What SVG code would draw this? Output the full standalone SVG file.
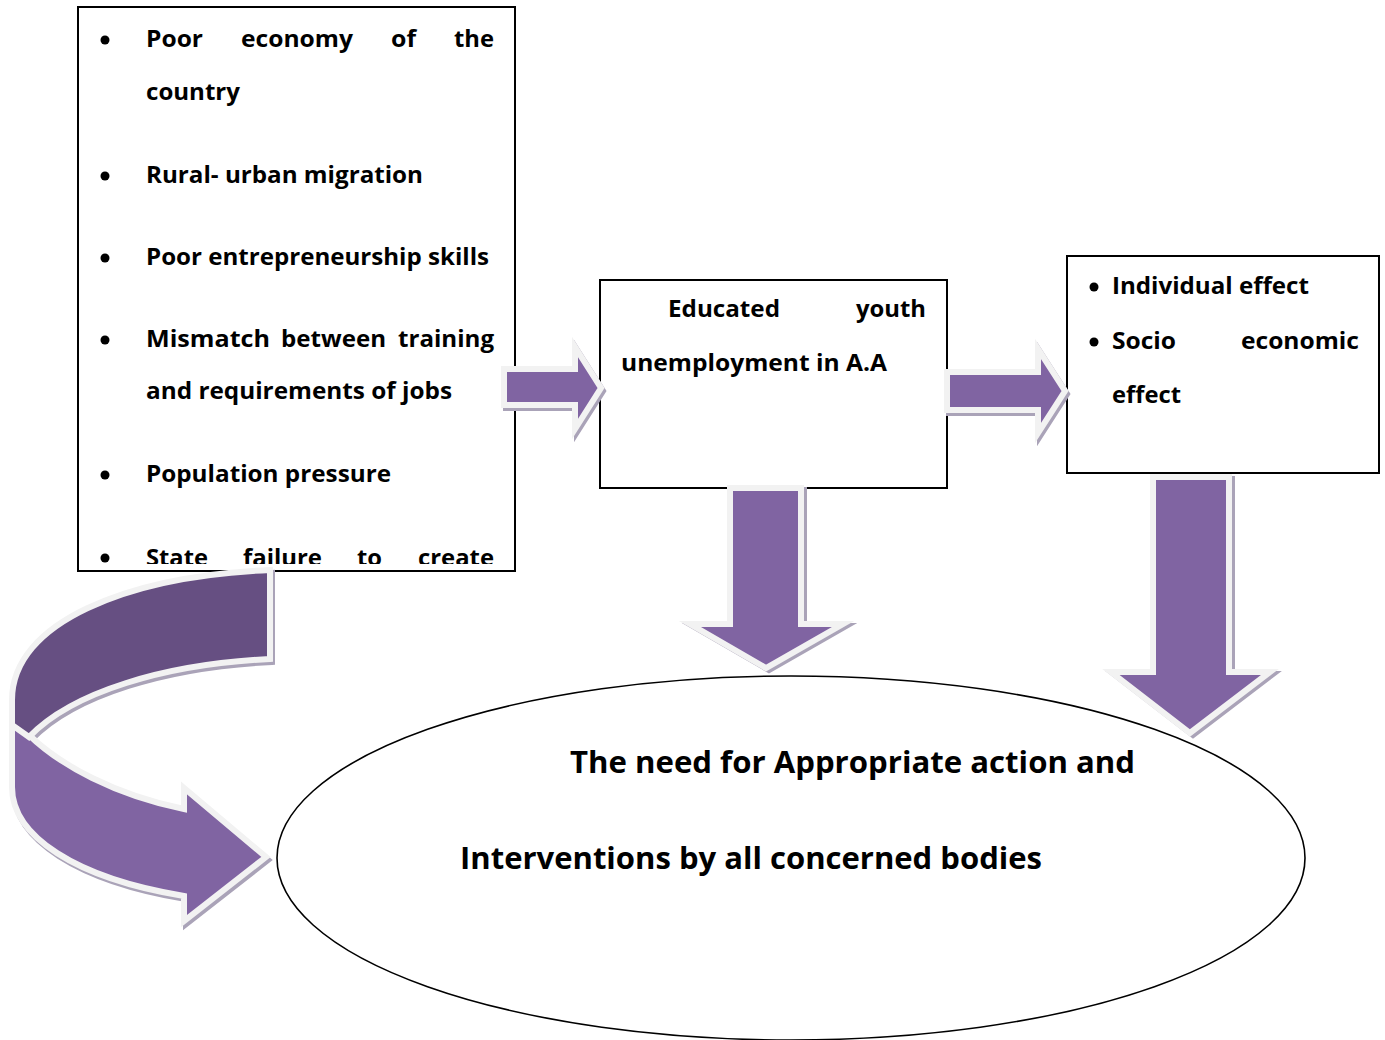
<svg xmlns="http://www.w3.org/2000/svg" width="1385" height="1040" viewBox="0 0 1385 1040">
  <style>
    .box { fill: #ffffff; stroke: #000000; stroke-width: 2; }
    .t { font-family: "Open Sans", "Liberation Sans", sans-serif; font-weight: bold; font-size: 23.5px; fill: #000000; }
    .tb { font-family: "Open Sans", "Liberation Sans", sans-serif; font-weight: bold; font-size: 30px; fill: #000000; }
    .arrow { fill: #8064a2; stroke: #f2f2f2; stroke-width: 6; stroke-linejoin: miter; }
    .dark { fill: #664f82; stroke: #f2f2f2; stroke-width: 6; stroke-linejoin: miter; }
    .shadow { fill: #aaa3b8; stroke: #aaa3b8; stroke-width: 6; stroke-linejoin: miter; }
  </style>
  <defs>
    <clipPath id="clipLeft">
      <rect x="78" y="7" width="437" height="557"/>
    </clipPath>
  </defs>
  <rect width="1385" height="1040" fill="#ffffff"/>

  <g id="node-causes">
    <rect class="box" x="78" y="7" width="437" height="564"/>
    <g clip-path="url(#clipLeft)">
      <circle cx="105" cy="40" r="4.5"/>
      <text class="t" x="146" y="47" textLength="57" lengthAdjust="spacingAndGlyphs">Poor</text>
      <text class="t" x="241" y="47" textLength="112" lengthAdjust="spacingAndGlyphs">economy</text>
      <text class="t" x="391" y="47" textLength="25" lengthAdjust="spacingAndGlyphs">of</text>
      <text class="t" x="454" y="47" textLength="40" lengthAdjust="spacingAndGlyphs">the</text>
      <text class="t" x="146" y="100" textLength="94" lengthAdjust="spacingAndGlyphs">country</text>
      <circle cx="105" cy="176" r="4.5"/>
      <text class="t" x="146" y="183" textLength="277" lengthAdjust="spacingAndGlyphs">Rural- urban migration</text>
      <circle cx="105" cy="258" r="4.5"/>
      <text class="t" x="146" y="265" textLength="343" lengthAdjust="spacingAndGlyphs">Poor entrepreneurship skills</text>
      <circle cx="105" cy="340" r="4.5"/>
      <text class="t" x="146" y="347" textLength="124" lengthAdjust="spacingAndGlyphs">Mismatch</text>
      <text class="t" x="281" y="347" textLength="105" lengthAdjust="spacingAndGlyphs">between</text>
      <text class="t" x="398" y="347" textLength="96" lengthAdjust="spacingAndGlyphs">training</text>
      <text class="t" x="146" y="399" textLength="306" lengthAdjust="spacingAndGlyphs">and requirements of jobs</text>
      <circle cx="105" cy="475" r="4.5"/>
      <text class="t" x="146" y="482" textLength="245" lengthAdjust="spacingAndGlyphs">Population pressure</text>
      <circle cx="105" cy="558" r="4.5"/>
      <text class="t" x="146" y="566" textLength="62" lengthAdjust="spacingAndGlyphs">State</text>
      <text class="t" x="243" y="566" textLength="79" lengthAdjust="spacingAndGlyphs">failure</text>
      <text class="t" x="357" y="566" textLength="25" lengthAdjust="spacingAndGlyphs">to</text>
      <text class="t" x="418" y="566" textLength="76" lengthAdjust="spacingAndGlyphs">create</text>
    </g>
  </g>

  <g id="node-problem">
    <rect class="box" x="600" y="280" width="347" height="208"/>
    <text class="t" x="668" y="317" textLength="112" lengthAdjust="spacingAndGlyphs">Educated</text>
    <text class="t" x="856" y="317" textLength="70" lengthAdjust="spacingAndGlyphs">youth</text>
    <text class="t" x="621" y="371" textLength="266" lengthAdjust="spacingAndGlyphs">unemployment in A.A</text>
  </g>

  <g id="node-effects">
    <rect class="box" x="1067" y="256" width="312" height="217"/>
    <circle cx="1094" cy="287" r="4.5"/>
    <text class="t" x="1112" y="294" textLength="197" lengthAdjust="spacingAndGlyphs">Individual effect</text>
    <circle cx="1094" cy="342" r="4.5"/>
    <text class="t" x="1112" y="349" textLength="64" lengthAdjust="spacingAndGlyphs">Socio</text>
    <text class="t" x="1241" y="349" textLength="118" lengthAdjust="spacingAndGlyphs">economic</text>
    <text class="t" x="1112" y="403" textLength="69" lengthAdjust="spacingAndGlyphs">effect</text>
  </g>

  <g id="node-action">
    <ellipse cx="791" cy="858" rx="514" ry="182" fill="#ffffff" stroke="#000000" stroke-width="1.6"/>
    <text class="tb" x="570" y="773" textLength="565" lengthAdjust="spacingAndGlyphs">The need for Appropriate action and</text>
    <text class="tb" x="460" y="869" textLength="582" lengthAdjust="spacingAndGlyphs">Interventions by all concerned bodies</text>
  </g>

  <g id="connectors">
    <!-- causes -> problem -->
    <path class="shadow" transform="translate(2,3)" d="M504 369 L575 369 L575 347 L601 388 L575 429 L575 405 L504 405 Z"/>
    <path class="arrow" d="M504 369 L575 369 L575 347 L601 388 L575 429 L575 405 L504 405 Z"/>
    <!-- problem -> effects -->
    <path class="shadow" transform="translate(2,3)" d="M947 372 L1038 372 L1038 349 L1065 391 L1038 433 L1038 410 L947 410 Z"/>
    <path class="arrow" d="M947 372 L1038 372 L1038 349 L1065 391 L1038 433 L1038 410 L947 410 Z"/>
    <!-- problem -> action -->
    <path class="shadow" transform="translate(3,2)" d="M730 488 L801 488 L801 624 L843 624 L766 668 L690 624 L730 624 Z"/>
    <path class="arrow" d="M730 488 L801 488 L801 624 L843 624 L766 668 L690 624 L730 624 Z"/>
    <!-- effects -> action -->
    <path class="shadow" transform="translate(3,2)" d="M1153 477 L1229 477 L1229 672 L1270 672 L1190 733 L1111 672 L1153 672 Z"/>
    <path class="arrow" d="M1153 477 L1229 477 L1229 672 L1270 672 L1190 733 L1111 672 L1153 672 Z"/>
    <!-- causes -> action (curved) -->
    <g transform="translate(2,3)">
      <path class="shadow" d="M12 723 L29 735 C 60 765, 115 795, 184 809 L184 788 L266 857 L184 921 L184 896 C 75 878, 12 836, 12 787 Z"/>
      <path class="shadow" d="M270 570 L270 659 C 165 664, 72 692, 29 737 L12 725 L12 700 C 12 622, 128 576, 270 570 Z"/>
    </g>
    <path class="arrow" d="M12 723 L29 735 C 60 765, 115 795, 184 809 L184 788 L266 857 L184 921 L184 896 C 75 878, 12 836, 12 787 Z"/>
    <path class="dark" d="M270 570 L270 659 C 165 664, 72 692, 29 737 L12 725 L12 700 C 12 622, 128 576, 270 570 Z"/>
  </g>
</svg>
